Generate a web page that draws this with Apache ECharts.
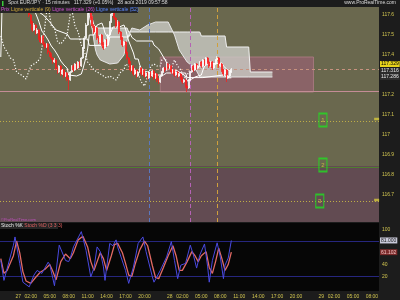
<!DOCTYPE html>
<html><head><meta charset="utf-8">
<script src="https://cdn.jsdelivr.net/npm/echarts@6/dist/echarts.min.js"></script>
<style>html,body{margin:0;padding:0;background:#1c1c1c;}#c{width:400px;height:300px;}</style>
</head><body><div id="c"></div>
<script>
// ---------- data ----------
const firstBar = -11, lastBar = 228;          // 15-minute bar index, 0 = 27 00:00
const xTickIdx  = [0,8,20,32,44,56,68,80,96,104,116,128,140,152,164,176,192,200,212,224];
const xTickText = ['27','02:00','05:00','08:00','11:00','14:00','17:00','20:00','28','02:00','05:00','08:00','11:00','14:00','17:00','20:00','29','02:00','05:00','08:00'];
const priceTicks = [117.6,117.5,117.4,117.2,117.1,117,116.9,116.8,116.7];
const stochTicks = [100,40,20];

// [open, close, low, high] from bar -11
const ohlc = [
[117.700,117.715,117.690,117.725],[117.715,117.695,117.685,117.720],[117.695,117.725,117.690,117.735],[117.725,117.735,117.715,117.745],
[117.735,117.715,117.705,117.740],[117.715,117.705,117.695,117.725],[117.705,117.725,117.700,117.730],[117.725,117.710,117.700,117.730],
[117.710,117.690,117.680,117.715],[117.690,117.705,117.685,117.710],[117.705,117.680,117.670,117.710],[117.680,117.700,117.675,117.705],
[117.700,117.680,117.670,117.705],[117.680,117.695,117.675,117.700],[117.695,117.675,117.665,117.700],[117.675,117.685,117.670,117.690],
[117.685,117.660,117.650,117.690],[117.660,117.635,117.625,117.665],[117.635,117.600,117.590,117.640],[117.600,117.565,117.555,117.605],
[117.565,117.525,117.515,117.570],[117.525,117.550,117.520,117.560],[117.550,117.510,117.500,117.555],[117.510,117.525,117.505,117.535],
[117.525,117.485,117.475,117.530],[117.485,117.465,117.455,117.490],[117.465,117.495,117.460,117.500],[117.495,117.455,117.445,117.500],
[117.455,117.440,117.430,117.465],[117.440,117.455,117.435,117.460],[117.455,117.415,117.405,117.460],[117.415,117.400,117.390,117.420],
[117.400,117.385,117.375,117.410],[117.385,117.365,117.355,117.390],[117.365,117.375,117.360,117.385],[117.375,117.335,117.325,117.380],
[117.335,117.315,117.305,117.340],[117.315,117.345,117.310,117.350],[117.345,117.305,117.295,117.350],[117.305,117.325,117.300,117.330],
[117.325,117.295,117.285,117.330],[117.295,117.310,117.290,117.315],[117.310,117.280,117.270,117.315],[117.280,117.275,117.225,117.290],
[117.275,117.315,117.270,117.320],[117.315,117.345,117.310,117.350],[117.345,117.325,117.315,117.355],[117.325,117.355,117.320,117.360],
[117.355,117.335,117.325,117.365],[117.335,117.365,117.330,117.370],[117.365,117.345,117.335,117.370],[117.345,117.385,117.340,117.390],
[117.385,117.435,117.380,117.440],[117.435,117.485,117.430,117.495],[117.485,117.550,117.480,117.560],[117.550,117.615,117.545,117.630],
[117.615,117.645,117.605,117.670],[117.645,117.585,117.575,117.655],[117.585,117.545,117.535,117.595],[117.545,117.515,117.505,117.555],
[117.515,117.535,117.510,117.545],[117.535,117.485,117.475,117.540],[117.485,117.465,117.455,117.495],[117.465,117.500,117.460,117.505],
[117.500,117.455,117.445,117.505],[117.455,117.435,117.425,117.465],[117.435,117.475,117.430,117.480],[117.475,117.450,117.440,117.480],
[117.450,117.500,117.445,117.505],[117.500,117.565,117.495,117.570],[117.565,117.605,117.560,117.620],[117.605,117.625,117.595,117.660],
[117.625,117.585,117.575,117.635],[117.585,117.545,117.535,117.590],[117.545,117.565,117.540,117.575],[117.565,117.515,117.505,117.570],
[117.515,117.485,117.475,117.520],[117.485,117.450,117.440,117.490],[117.450,117.465,117.445,117.470],[117.465,117.415,117.405,117.470],
[117.415,117.385,117.375,117.420],[117.385,117.365,117.355,117.390],[117.365,117.325,117.315,117.370],[117.325,117.345,117.320,117.350],
[117.345,117.305,117.295,117.350],[117.305,117.325,117.300,117.335],[117.325,117.295,117.285,117.330],[117.295,117.315,117.290,117.320],
[117.315,117.335,117.310,117.345],[117.335,117.305,117.295,117.340],[117.305,117.325,117.300,117.330],[117.325,117.295,117.285,117.330],
[117.295,117.310,117.290,117.315],[117.310,117.285,117.275,117.315],[117.285,117.315,117.280,117.320],[117.315,117.295,117.285,117.320],
[117.295,117.320,117.290,117.325],[117.320,117.285,117.275,117.325],[117.285,117.305,117.280,117.310],[117.305,117.275,117.265,117.310],
[117.275,117.265,117.255,117.285],[117.265,117.295,117.260,117.300],[117.295,117.315,117.290,117.320],[117.315,117.335,117.310,117.340],
[117.335,117.325,117.315,117.340],[117.325,117.355,117.320,117.360],[117.355,117.335,117.325,117.360],[117.335,117.345,117.330,117.355],
[117.345,117.315,117.305,117.350],[117.315,117.325,117.310,117.330],[117.325,117.300,117.290,117.330],[117.300,117.315,117.295,117.320],
[117.315,117.295,117.285,117.320],[117.295,117.305,117.290,117.310],[117.305,117.285,117.275,117.310],[117.285,117.265,117.255,117.290],
[117.265,117.275,117.260,117.280],[117.275,117.245,117.235,117.280],[117.245,117.235,117.215,117.250],[117.235,117.275,117.230,117.280],
[117.275,117.315,117.270,117.320],[117.315,117.345,117.310,117.350],[117.345,117.325,117.315,117.350],[117.325,117.355,117.320,117.360],
[117.355,117.335,117.325,117.360],[117.335,117.345,117.330,117.350],[117.345,117.365,117.340,117.370],[117.365,117.345,117.335,117.370],
[117.345,117.375,117.340,117.380],[117.375,117.355,117.345,117.380],[117.355,117.385,117.350,117.390],[117.385,117.365,117.355,117.390],
[117.365,117.345,117.335,117.370],[117.345,117.365,117.340,117.370],[117.365,117.335,117.325,117.370],[117.335,117.355,117.330,117.360],
[117.355,117.375,117.350,117.380],[117.375,117.385,117.370,117.395],[117.385,117.345,117.335,117.390],[117.345,117.355,117.340,117.360],
[117.355,117.325,117.315,117.360],[117.325,117.305,117.295,117.330],[117.305,117.325,117.300,117.330],[117.325,117.285,117.265,117.330],
[117.285,117.295,117.280,117.300],[117.295,117.315,117.290,117.320],[117.315,117.329,117.310,117.335]
];

// Ichimoku lines as [bar, price]
const tenkan = [[-11,117.70],[5,117.70],[7,117.66],[9,117.625],[11,117.61],[13,117.57],[15,117.52],[17,117.50],[19,117.475],[21,117.445],[23,117.425],[25,117.40],[27,117.37],[29,117.35],[31,117.335],[32,117.30],[37,117.295],[40,117.305],[41,117.33],[42,117.36],[43,117.39],[44,117.43],[45,117.50],[48,117.50],[49,117.525],[50,117.55],[53,117.56],[54,117.54],[55,117.51],[57,117.485],[58,117.50],[59,117.52],[60,117.54],[64,117.54],[65,117.55],[67,117.55],[68,117.53],[69,117.52],[70,117.47],[71,117.45],[72,117.445],[73,117.41],[74,117.38],[76,117.38],[77,117.35],[78,117.335],[80,117.32],[88,117.30],[89,117.29],[92,117.30],[94,117.31],[98,117.31],[99,117.325],[101,117.32],[104,117.305],[106,117.295],[107,117.27],[110,117.28],[112,117.29],[116,117.30],[117,117.325],[118,117.345],[120,117.355],[129,117.36],[130,117.345],[132,117.33],[135,117.316]];
const kijun = [[-11,117.39],[-10,117.70],[10,117.70],[12,117.62],[16,117.60],[20,117.565],[24,117.525],[31,117.505],[33,117.48],[44,117.48],[45,117.448],[57,117.448],[58,117.49],[70,117.49],[71,117.507],[72,117.488],[75,117.47],[85,117.47],[86,117.45],[89,117.43],[92,117.39],[96,117.335],[100,117.31],[106,117.31],[107,117.287],[117,117.287],[118,117.297],[130,117.30],[133,117.286],[135,117.286]];
const spanBars = [15,43,44,45,46,47,48,49,50,52,58,63,67,69,70,72,77,82,87,95,99,102,107,112,115,116,131,132,146,147,161];
const spanA = [117.72,117.70,117.66,117.60,117.56,117.525,117.47,117.425,117.40,117.375,117.355,117.36,117.40,117.475,117.50,117.535,117.525,117.55,117.565,117.565,117.50,117.425,117.365,117.335,117.29,117.29,117.29,117.29,117.29,117.29,117.29];
const spanB = [117.72,117.72,117.72,117.67,117.62,117.58,117.55,117.54,117.535,117.535,117.535,117.535,117.535,117.535,117.515,117.515,117.515,117.515,117.515,117.515,117.515,117.515,117.515,117.515,117.515,117.495,117.495,117.44,117.44,117.315,117.315];
const chikou = [[-11,117.495],[-9,117.44],[-7,117.415],[-5,117.385],[-3,117.375],[-1,117.315],[1,117.305],[3,117.295],[5,117.28],[6,117.275],[8,117.345],[10,117.355],[12,117.365],[14,117.385],[16,117.485],[18,117.615],[19,117.645],[21,117.545],[23,117.535],[25,117.465],[27,117.455],[29,117.475],[31,117.50],[33,117.605],[34,117.625],[36,117.545],[38,117.515],[40,117.45],[42,117.415],[44,117.365],[46,117.345],[48,117.325],[50,117.315],[52,117.305],[54,117.295],[56,117.285],[58,117.295],[60,117.285],[62,117.275],[63,117.265],[65,117.315],[67,117.325],[68,117.355],[70,117.345],[72,117.325],[74,117.315],[76,117.305],[78,117.265],[80,117.245],[81,117.235],[83,117.315],[84,117.345],[86,117.355],[88,117.345],[90,117.345],[91,117.375],[93,117.385],[95,117.345],[97,117.335],[99,117.375],[100,117.385],[101,117.345],[103,117.325],[104,117.305],[106,117.285],[107,117.295],[109,117.329]];

// Stochastic [bar, value]
const stochK = [[-11,47],[-9,13],[-3,73],[-2,87],[1,42],[3,10],[7,2],[10,22],[12,30],[15,25],[19,44],[20,40],[22,16],[23,4],[26,73],[30,47],[32,45],[33,51],[35,70],[40,96],[43,64],[46,19],[48,34],[50,70],[52,62],[54,36],[55,13],[58,76],[60,72],[62,82],[63,70],[68,30],[70,8],[73,36],[76,76],[79,87],[81,62],[85,19],[86,10],[90,30],[94,53],[97,79],[99,47],[101,16],[103,39],[106,42],[109,73],[111,56],[113,34],[115,56],[118,75],[120,36],[121,10],[123,47],[126,77],[128,53],[130,16],[131,39],[133,51],[135,81]];
const stochD = [[-11,50],[-9,25],[-7,30],[-3,55],[-1,80],[1,60],[3,28],[5,12],[8,8],[11,18],[14,27],[17,32],[20,40],[22,28],[24,14],[27,45],[30,58],[33,50],[35,60],[38,82],[41,88],[44,70],[46,45],[48,30],[50,45],[52,60],[54,50],[56,30],[59,55],[61,74],[63,76],[66,60],[68,42],[70,22],[72,20],[74,40],[77,65],[80,80],[82,72],[85,38],[87,18],[89,16],[92,35],[95,55],[98,72],[100,55],[102,30],[104,30],[107,45],[110,62],[112,55],[114,45],[116,55],[119,62],[121,35],[123,25],[125,45],[127,68],[129,50],[131,30],[133,40],[135,61.1]];

// annotations
const lastPrice = 117.329, tenkanLast = 117.316, kijunLast = 117.286;
const stochKLast = 81.000, stochDLast = 61.102;
const zoneLevel = 116.845, rectBox = [90,187,117.215,117.39], supportLine = 117.215;
const dottedLevels = [117.07, 116.67];
const vLines = [{bar:83,color:'#5a78c0'},{bar:109,color:'#b462b4'},{bar:126,color:'#d0a03c'}];
const trendLine = [[126,117.641],[228,117.481]];
const boxes = [{bar:193,price:117.075,name:'1'},{bar:193,price:116.85,name:'2'},{bar:191,price:116.67,name:'3'}];
const alerts = [[227,117.08],[227,116.675]];

// ---------- build ----------
const cats = [];
for (let i = firstBar; i <= lastBar; i++) {
  const m = (27*1440) + i*15, d = Math.floor(m/1440), r = m - d*1440;
  cats.push(d + ' ' + String(Math.floor(r/60)).padStart(2,'0') + ':' + String(r%60).padStart(2,'0'));
}
const K = i => i - firstBar;
const pts = arr => arr.map(([i,v]) => [K(i), v]);
const fnt = 'Liberation Sans';
const yel = '#d2c650';
const noLine = {width:0, color:'rgba(0,0,0,0)'};
const boxLabel = (txt, fg, bg, extra) => Object.assign({show:true, position:'end', distance:1, formatter:txt, color:fg, backgroundColor:bg, fontSize:5, padding:[1,1,0,1], fontFamily:fnt}, extra || {});

const chart = echarts.init(document.getElementById('c'));
const option = {
  backgroundColor: '#1c1c1c',
  animation: false,
  textStyle: {fontFamily: fnt},
  grid: [
    {left:0, right:21, top:7, height:215, show:true, backgroundColor:'#6a684e', borderWidth:0},
    {left:0, right:21, top:223, height:68, show:true, backgroundColor:'#060606', borderWidth:0}
  ],
  xAxis: [
    {type:'category', gridIndex:0, data:cats, boundaryGap:true, axisLine:{show:false}, axisTick:{show:false}, axisLabel:{show:false}, splitLine:{show:false}},
    {type:'category', gridIndex:1, data:cats, boundaryGap:true, axisLine:{show:false}, axisTick:{show:false}, splitLine:{show:false},
      axisLabel:{show:true, color:yel, fontSize:5, margin:3, fontFamily:fnt,
        interval:(idx) => xTickIdx.indexOf(idx + firstBar) >= 0,
        formatter:(v, idx) => { const p = xTickIdx.indexOf(idx + firstBar); return p >= 0 ? xTickText[p] : ''; }}}
  ],
  yAxis: [
    {type:'value', gridIndex:0, position:'right', min:116.565, max:117.64, scale:true, splitLine:{show:false}, axisLine:{show:false}, axisTick:{show:false},
      axisLabel:{customValues:priceTicks, color:yel, fontSize:5, margin:3, fontFamily:fnt, formatter:v => String(+v.toFixed(1))}},
    {type:'value', gridIndex:1, position:'right', min:-5, max:110.7, splitLine:{show:false}, axisLine:{show:false}, axisTick:{show:false},
      axisLabel:{customValues:stochTicks, color:yel, fontSize:5, margin:3, fontFamily:fnt}}
  ],
  series: [
    { // background zones
      type:'line', xAxisIndex:0, yAxisIndex:0, data:[], z:1, silent:true,
      markArea:{silent:true, data:[
        [{yAxis:zoneLevel, itemStyle:{color:'#624b52'}}, {yAxis:116.565}],
        [{xAxis:K(rectBox[0]), yAxis:rectBox[3], itemStyle:{color:'#8a6367', borderColor:'#b07e86', borderWidth:0.8}}, {xAxis:K(rectBox[1]), yAxis:rectBox[2]}]
      ]}
    },
    { // horizontal / vertical / trend lines
      type:'line', xAxisIndex:0, yAxisIndex:0, data:[], z:2, silent:true,
      markLine:{silent:true, symbol:'none', label:{show:false}, data:[
        {yAxis:supportLine, lineStyle:{color:'#c48c96', width:1, type:'solid'}},
        {yAxis:zoneLevel, lineStyle:{color:'#4f7f30', width:1.2, type:'solid'}},
        {yAxis:dottedLevels[0], lineStyle:{color:'#bfae46', width:1, type:[1,2]}},
        {yAxis:dottedLevels[1], lineStyle:{color:'#bfae46', width:1, type:[1,2]}},
        ...vLines.map(v => ({xAxis:K(v.bar), lineStyle:{color:v.color, width:1, type:[4,3]}})),
        [{coord:[K(trendLine[0][0]), trendLine[0][1]], lineStyle:{color:'#e01818', width:1.5, type:'solid'}}, {coord:[K(trendLine[1][0]), trendLine[1][1]]}]
      ]}
    },
    { // Kumo cloud
      type:'custom', xAxisIndex:0, yAxisIndex:0, z:3, silent:true, clip:true,
      data:[[K(spanBars[0]), spanA[0]]],
      renderItem:(params, api) => {
        const up = spanBars.map((b, j) => api.coord([K(b), spanA[j]]));
        const dn = spanBars.map((b, j) => api.coord([K(b), spanB[j]])).reverse();
        return {type:'polygon', shape:{points:up.concat(dn)}, style:{fill:'rgba(205,205,200,0.78)', stroke:null}};
      }
    },
    {type:'line', name:'Span A', xAxisIndex:0, yAxisIndex:0, z:4, data:spanBars.map((b,j)=>[K(b), spanA[j]]), showSymbol:false, lineStyle:{color:'#e6e6e6', width:1}, silent:true},
    {type:'line', name:'Span B', xAxisIndex:0, yAxisIndex:0, z:4, data:spanBars.map((b,j)=>[K(b), spanB[j]]), showSymbol:false, lineStyle:{color:'#f0f0f0', width:1}, silent:true},
    {type:'line', name:'Kijun', xAxisIndex:0, yAxisIndex:0, z:5, data:pts(kijun), showSymbol:false, lineStyle:{color:'#ffffff', width:1}, silent:true},
    {type:'line', name:'Tenkan', xAxisIndex:0, yAxisIndex:0, z:5, data:pts(tenkan), showSymbol:false, lineStyle:{color:'#ffffff', width:1}, silent:true},
    {type:'line', name:'Chikou', xAxisIndex:0, yAxisIndex:0, z:5, data:pts(chikou), showSymbol:false, lineStyle:{color:'#ffffff', width:1.2, type:[1.2,1.8]}, silent:true},
    {type:'candlestick', name:'EUR/JPY', xAxisIndex:0, yAxisIndex:0, z:6, data:ohlc, barWidth:'95%', clip:true,
      itemStyle:{color:'#ffffff', color0:'#ff1a1a', borderColor:'#ffffff', borderColor0:'#ff1a1a', borderWidth:0.7},
      markLine:{silent:true, symbol:'none', label:{show:false}, data:[
        {yAxis:lastPrice, lineStyle:{color:'#c8927f', type:[3,3], width:1}, label:boxLabel('117.329', '#000', '#e6d21c', {offset:[0,-5]})},
        {yAxis:tenkanLast, lineStyle:noLine, label:boxLabel('117.316', '#e8e8e8', '#2c2c2c')},
        {yAxis:kijunLast, lineStyle:noLine, label:boxLabel('117.286', '#e8e8e8', '#2c2c2c')}
      ]}},
    {type:'scatter', xAxisIndex:0, yAxisIndex:0, z:7, silent:true,
      data:boxes.map(b => ({name:b.name, value:[K(b.bar), b.price]})),
      symbol:'rect', symbolSize:[8,13],
      itemStyle:{color:'rgba(0,0,0,0)', borderColor:'#22dd22', borderWidth:1.4},
      label:{show:true, position:'inside', formatter:p => p.name, color:'#d8d040', fontSize:6, fontFamily:fnt}},
    {type:'scatter', xAxisIndex:0, yAxisIndex:0, z:7, silent:true, data:pts(alerts), symbol:'rect', symbolSize:[5,2.5], itemStyle:{color:'#d6c83c'}},
    // stochastic
    {type:'line', name:'Stoch %D', xAxisIndex:1, yAxisIndex:1, z:5, data:pts(stochD), showSymbol:false, lineStyle:{color:'#e26a64', width:1.3}, silent:true,
      markLine:{silent:true, symbol:'none', label:{show:false}, data:[
        {yAxis:80, lineStyle:{color:'#26267e', width:1, type:'solid'}},
        {yAxis:20, lineStyle:{color:'#26267e', width:1, type:'solid'}},
        {yAxis:stochDLast, lineStyle:noLine, label:boxLabel('61.102', '#f0c0c0', '#7a2a2a')},
        {yAxis:stochKLast, lineStyle:noLine, label:boxLabel('81.000', '#202020', '#c8c8d8')}
      ]}},
    {type:'line', name:'Stoch %K', xAxisIndex:1, yAxisIndex:1, z:6, data:pts(stochK), showSymbol:false, lineStyle:{color:'#4a4ae0', width:1}, silent:true}
  ],
  graphic: [
    {type:'rect', left:0, top:0, shape:{width:400, height:7}, style:{fill:'#1c1c1c'}, z:100},
    {type:'rect', left:2, top:1, shape:{width:1.5, height:5}, style:{fill:'#3cc83c'}, z:101},
    {type:'text', left:8, top:0.5, z:101, style:{text:'Spot EUR/JPY · 15 minutes   117.329 (+0.05%)   28 août 2019 09:57:58', fill:'#dcdcdc', font:'5px Liberation Sans'}},
    {type:'text', right:4, top:0.5, z:101, style:{text:'www.ProRealTime.com', fill:'#dcdcdc', font:'5px Liberation Sans'}},
    {type:'rect', left:0, top:7, shape:{width:138, height:6}, style:{fill:'#262626'}, z:100},
    {type:'text', left:1, top:7.5, z:101, style:{text:'{a|Prix} {b|Ligne verticale (9)} {a|Ligne verticale (26)} {c|Ligne verticale (52)}', font:'5px Liberation Sans',
      rich:{a:{fill:'#d050d0', fontSize:5, fontFamily:fnt}, b:{fill:'#d0a838', fontSize:5, fontFamily:fnt}, c:{fill:'#5a88ff', fontSize:5, fontFamily:fnt}}}},
    {type:'text', left:1, top:218, z:101, style:{text:'©ProRealTime.com', fill:'#c050c0', font:'4px Liberation Sans'}},
    {type:'rect', left:0, top:223, shape:{width:58, height:6}, style:{fill:'#262626'}, z:100},
    {type:'text', left:1, top:223.5, z:101, style:{text:'{w|Stoch %K} {r|Stoch %D (3 3 3)}', font:'5px Liberation Sans',
      rich:{w:{fill:'#e8e8e8', fontSize:5, fontFamily:fnt}, r:{fill:'#e06060', fontSize:5, fontFamily:fnt}}}}
  ]
};
chart.setOption(option);
</script>
</body></html>
